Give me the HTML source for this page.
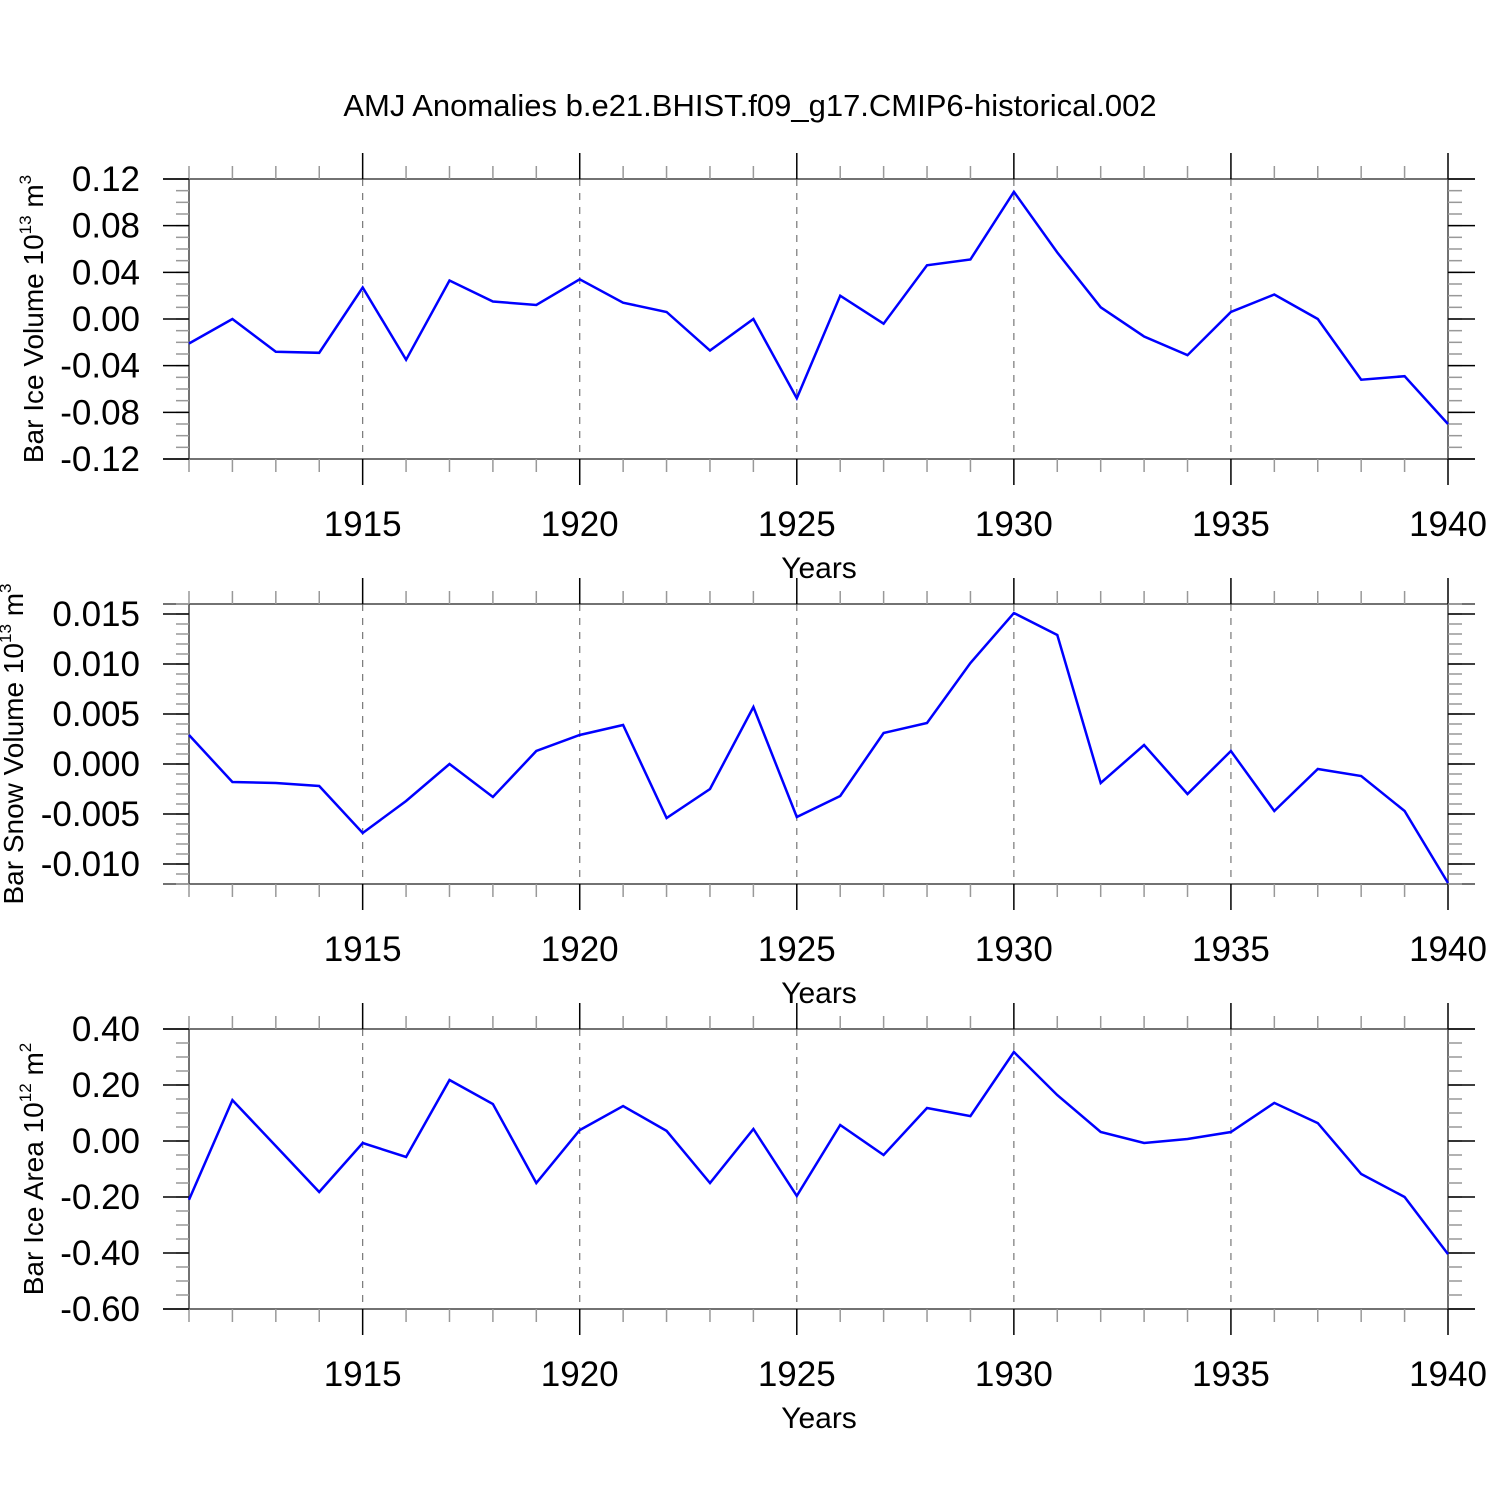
<!DOCTYPE html>
<html><head><meta charset="utf-8"><style>
html,body{margin:0;padding:0;background:#fff;}
svg{display:block;font-family:"Liberation Sans",sans-serif;}
</style></head><body>
<svg id="c" width="1500" height="1500" viewBox="0 0 1500 1500">
<text x="750" y="116" text-anchor="middle" font-size="31">AMJ Anomalies b.e21.BHIST.f09_g17.CMIP6-historical.002</text>
</svg>
<script>
const years = [1911,1912,1913,1914,1915,1916,1917,1918,1919,1920,1921,1922,1923,1924,1925,1926,1927,1928,1929,1930,1931,1932,1933,1934,1935,1936,1937,1938,1939,1940];
const iceVolume = [-0.021,0.000,-0.028,-0.029,0.027,-0.035,0.033,0.015,0.012,0.034,0.014,0.006,-0.027,0.000,-0.068,0.020,-0.004,0.046,0.051,0.109,0.057,0.010,-0.015,-0.031,0.006,0.021,0.000,-0.052,-0.049,-0.090];
const snowVolume = [0.0029,-0.0018,-0.0019,-0.0022,-0.0069,-0.0037,0.0000,-0.0033,0.0013,0.0029,0.0039,-0.0054,-0.0025,0.0057,-0.0053,-0.0032,0.0031,0.0041,0.0101,0.0151,0.0129,-0.0019,0.0019,-0.0030,0.0013,-0.0047,-0.0005,-0.0012,-0.0047,-0.0119];
const iceArea = [-0.21,0.146,-0.018,-0.182,-0.007,-0.057,0.218,0.132,-0.15,0.039,0.125,0.036,-0.15,0.043,-0.196,0.057,-0.05,0.118,0.089,0.318,0.164,0.032,-0.007,0.007,0.032,0.136,0.064,-0.118,-0.2,-0.404];
const xTickLabels = ["1915","1920","1925","1930","1935","1940"];
const ticks1 = ["0.12","0.08","0.04","0.00","-0.04","-0.08","-0.12"];
const ticks2 = ["0.015","0.010","0.005","0.000","-0.005","-0.010"];
const ticks3 = ["0.40","0.20","0.00","-0.20","-0.40","-0.60"];

const svg = document.getElementById('c');
const NS = 'http://www.w3.org/2000/svg';
function mk(tag, attrs, parent){const e=document.createElementNS(NS,tag);for(const k in attrs)e.setAttribute(k,attrs[k]);(parent||svg).appendChild(e);return e;}
const X0=189, X1=1448, XMIN=1911, XMAX=1940;
const xs = v => X0 + (v-XMIN)/(XMAX-XMIN)*(X1-X0);

const panels = [
 {data:iceVolume, ticks:ticks1, ymin:-0.12, ymax:0.12, minor:0.01, top:179, tx:43, title:['Bar Ice Volume 10','13',' m','3'], name:'ice-volume'},
 {data:snowVolume, ticks:ticks2, ymin:-0.012, ymax:0.016, minor:0.001, top:604, tx:23, title:['Bar Snow Volume 10','13',' m','3'], name:'snow-volume'},
 {data:iceArea, ticks:ticks3, ymin:-0.6, ymax:0.4, minor:0.05, top:1029, tx:43, title:['Bar Ice Area 10','12',' m','2'], name:'ice-area'}
];
panels.forEach((p)=>{
  const H=280, T=p.top, B=T+H;
  const g = mk('g',{});
  
  
  const ys = v => B - (v-p.ymin)/(p.ymax-p.ymin)*H;
  xTickLabels.forEach(l=>{const x=xs(+l); if(+l<XMAX){const d=mk('line',{x1:x,x2:x,y1:T,y2:B,stroke:'#777','stroke-width':1.2,'stroke-dasharray':'7,7'},g);
     }});
  mk('line',{x1:163,x2:1475,y1:T,y2:T,stroke:'#444','stroke-width':1.5},g);
  mk('line',{x1:163,x2:1475,y1:B,y2:B,stroke:'#444','stroke-width':1.5},g);
  mk('line',{x1:X0,x2:X0,y1:T,y2:B,stroke:'#444','stroke-width':1.5},g);
  mk('line',{x1:X1,x2:X1,y1:T,y2:B,stroke:'#444','stroke-width':1.5},g);
  years.forEach(y=>{const x=xs(y); const major=(y%5===0); const L=major?26:13; const c=major?'#000':'#999';
    mk('line',{x1:x,x2:x,y1:T-L,y2:T,stroke:c,'stroke-width':1.5},g);
    mk('line',{x1:x,x2:x,y1:B,y2:B+L,stroke:c,'stroke-width':1.5},g);});
  const n=Math.round((p.ymax-p.ymin)/p.minor);
  for(let i=0;i<=n;i++){const v=p.ymin+i*p.minor; const y=ys(v);
    mk('line',{x1:176,x2:X0,y1:y,y2:y,stroke:'#999','stroke-width':1.5},g);
    mk('line',{x1:X1,x2:1462,y1:y,y2:y,stroke:'#999','stroke-width':1.5},g);}
  p.ticks.forEach(t=>{const y=ys(+t);
    mk('line',{x1:163,x2:X0,y1:y,y2:y,stroke:'#000','stroke-width':1.5},g);
    mk('line',{x1:X1,x2:1475,y1:y,y2:y,stroke:'#000','stroke-width':1.5},g);
    const tx=mk('text',{x:140,y:y+12,'text-anchor':'end','font-size':35},g); tx.textContent=t;
     });
  xTickLabels.forEach(l=>{const tx=mk('text',{x:xs(+l),y:B+77,'text-anchor':'middle','font-size':35},g); tx.textContent=l;
     });
  const xt=mk('text',{x:819,y:B+119,'text-anchor':'middle','font-size':30},g); xt.textContent='Years';
   
  const yt=mk('text',{transform:`translate(${p.tx},${T+H/2}) rotate(-90)`,'text-anchor':'middle','font-size':28},g);
   
  p.title.forEach((s,i)=>{const ts=mk('tspan',{},yt); ts.textContent=s; if(i%2===1){ts.setAttribute('font-size','17');ts.setAttribute('dy','-12');} else if(i>0){ts.setAttribute('dy','12');}});
  const pts=p.data.map((v,i)=>xs(years[i]).toFixed(1)+','+ys(v).toFixed(1)).join(' ');
  const pl=mk('polyline',{points:pts,fill:'none',stroke:'#0000ff','stroke-width':2.5,'stroke-linejoin':'miter'},g);
   
});
</script>
</body></html>
